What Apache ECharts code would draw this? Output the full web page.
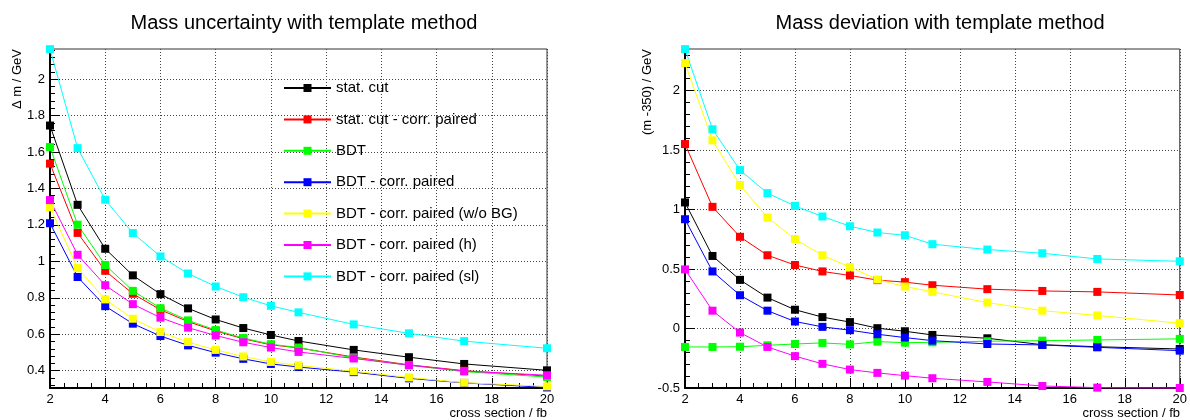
<!DOCTYPE html>
<html><head><meta charset="utf-8">
<script src="https://cdn.jsdelivr.net/npm/echarts@6/dist/echarts.min.js"></script>
<style>html,body{margin:0;padding:0;background:#fff}#c{width:1190px;height:420px}</style>
</head><body><div id="c"></div>
<script>
// ---- data ----
const xValues = [2,3,4,5,6,7,8,9,10,11,13,15,17,20];
const seriesNames = ['stat. cut','stat. cut - corr. paired','BDT','BDT - corr. paired','BDT - corr. paired (w/o BG)','BDT - corr. paired (h)','BDT - corr. paired (sl)'];
const seriesColors = ['#000000','#ff0000','#00ff00','#0000ff','#ffff00','#ff00ff','#00ffff'];

// left: mass uncertainty
const uncStatCut     = [1.745,1.310,1.069,0.923,0.820,0.742,0.681,0.634,0.596,0.563,0.514,0.474,0.437,0.402];
const uncStatCutCorr = [1.536,1.156,0.948,0.822,0.734,0.669,0.618,0.575,0.542,0.525,0.475,0.432,0.400,0.370];
const uncBDT         = [1.627,1.201,0.980,0.838,0.743,0.676,0.623,0.579,0.545,0.527,0.470,0.430,0.395,0.365];
const uncBDTCorr     = [1.209,0.914,0.754,0.658,0.590,0.539,0.499,0.465,0.437,0.420,0.392,0.358,0.333,0.308];
const uncBDTCorrNoBG = [1.296,0.963,0.791,0.685,0.612,0.557,0.514,0.478,0.448,0.429,0.397,0.363,0.334,0.314];
const uncBDTCorrH    = [1.336,1.036,0.869,0.765,0.691,0.636,0.593,0.556,0.527,0.503,0.467,0.430,0.398,0.375];
const uncBDTCorrSL   = [2.164,1.621,1.338,1.155,1.027,0.933,0.862,0.803,0.756,0.720,0.654,0.605,0.562,0.523];

// right: mass deviation
const devStatCut     = [1.060,0.610,0.409,0.260,0.158,0.096,0.054,0.003,-0.023,-0.054,-0.082,-0.136,-0.153,-0.172];
const devStatCutCorr = [1.551,1.023,0.771,0.616,0.534,0.480,0.446,0.407,0.390,0.364,0.331,0.316,0.308,0.282];
const devBDT         = [-0.155,-0.155,-0.153,-0.141,-0.130,-0.121,-0.133,-0.110,-0.119,-0.116,-0.107,-0.102,-0.096,-0.087];
const devBDTCorr     = [0.919,0.480,0.280,0.150,0.059,0.014,-0.014,-0.048,-0.076,-0.102,-0.130,-0.138,-0.158,-0.186];
const devBDTCorrNoBG = [2.231,1.582,1.206,0.933,0.752,0.616,0.517,0.412,0.353,0.308,0.218,0.150,0.110,0.045];
const devBDTCorrH    = [0.497,0.150,-0.034,-0.155,-0.232,-0.297,-0.345,-0.373,-0.396,-0.418,-0.449,-0.483,-0.497,-0.500];
const devBDTCorrSL   = [2.349,1.675,1.332,1.138,1.031,0.942,0.860,0.807,0.784,0.709,0.664,0.633,0.585,0.565];

const leftYTicks  = [0.4,0.6,0.8,1.0,1.2,1.4,1.6,1.8,2.0];
const rightYTicks = [-0.5,0,0.5,1,1.5,2];
const leftTitle = 'Mass uncertainty with template method';
const rightTitle = 'Mass deviation with template method';
const leftYName = '\u0394 m / GeV';
const rightYName = '(m -350) / GeV';
const xName = 'cross section / fb';

// ---- build ----
const FONT = 'Liberation Sans, Arial, Helvetica, sans-serif';
const uncSeries = [uncStatCut,uncStatCutCorr,uncBDT,uncBDTCorr,uncBDTCorrNoBG,uncBDTCorrH,uncBDTCorrSL];
const devSeries = [devStatCut,devStatCutCorr,devBDT,devBDTCorr,devBDTCorrNoBG,devBDTCorrH,devBDTCorrSL];

function minorValues(lo, hi, step, majors) {
  const out = [];
  for (let v = lo; v <= hi + 1e-9; v += step) {
    const r = Math.round(v * 1000) / 1000;
    if (!majors.some(m => Math.abs(m - r) < 1e-6)) out.push(r);
  }
  return out;
}

const leftYMin = 0.305, leftYMax = 2.165, rightYMin = -0.5, rightYMax = 2.35;

function xAxisCfg(gi) {
  return {
    type: 'value', gridIndex: gi, min: 2, max: 20, interval: 2,
    axisLine: { onZero: false, lineStyle: { color: '#000', width: 2 } },
    axisTick: { inside: true, length: 10, lineStyle: { color: '#000' } },
    minorTick: { show: true, splitNumber: 4, length: 5, lineStyle: { color: '#000' } },
    splitLine: { show: true, lineStyle: { color: '#444', type: [1, 2], width: 1 } },
    axisLabel: { fontSize: 13, fontFamily: FONT, color: '#000', margin: 5 }
  };
}
function yMainCfg(gi, min, max, ticks) {
  return {
    type: 'value', gridIndex: gi, position: 'left', min: min, max: max,
    axisLine: { onZero: false, lineStyle: { color: '#000', width: 2 } },
    axisTick: { inside: true, length: 10, customValues: ticks, lineStyle: { color: '#000' } },
    splitLine: { show: true, lineStyle: { color: '#444', type: [1, 2], width: 1 } },
    axisLabel: { customValues: ticks, fontSize: 13, fontFamily: FONT, color: '#000', margin: 5,
      formatter: v => String(Math.round(v * 10) / 10) }
  };
}
function yMinorCfg(gi, min, max, vals) {
  return {
    type: 'value', gridIndex: gi, position: 'left', min: min, max: max,
    axisLine: { show: false }, splitLine: { show: false },
    axisLabel: { show: false },
    axisTick: { inside: true, length: 5, customValues: vals, lineStyle: { color: '#000' } }
  };
}

const series = [];
uncSeries.forEach((arr, i) => series.push({
  name: seriesNames[i], type: 'line', xAxisIndex: 0, yAxisIndex: 0,
  data: xValues.map((x, j) => [x, arr[j]]),
  symbol: 'rect', symbolSize: 8, clip: false,
  itemStyle: { color: seriesColors[i] }, lineStyle: { color: seriesColors[i], width: 1 }
}));
devSeries.forEach((arr, i) => series.push({
  name: seriesNames[i], type: 'line', xAxisIndex: 1, yAxisIndex: 2,
  data: xValues.map((x, j) => [x, arr[j]]),
  symbol: 'rect', symbolSize: 8, clip: false,
  itemStyle: { color: seriesColors[i] }, lineStyle: { color: seriesColors[i], width: 1 }
}));

const option = {
  animation: false,
  backgroundColor: '#fff',
  title: [
    { text: leftTitle, left: 299, top: 8, textAlign: 'center',
      textStyle: { fontSize: 20, fontWeight: 'normal', fontFamily: FONT, color: '#000' } },
    { text: rightTitle, left: 935, top: 8, textAlign: 'center',
      textStyle: { fontSize: 20, fontWeight: 'normal', fontFamily: FONT, color: '#000' } }
  ],
  legend: {
    orient: 'vertical', left: 278, top: 75, itemWidth: 47, itemHeight: 10, itemGap: 15.4,
    data: seriesNames,
    textStyle: { fontSize: 15, fontFamily: FONT, color: '#000', lineHeight: 16 }
  },
  grid: [
    { left: 50, right: 643, top: 49, bottom: 32, show: true, borderColor: '#333', borderWidth: 1 },
    { left: 685, right: 10, top: 49, bottom: 32, show: true, borderColor: '#333', borderWidth: 1 }
  ],
  xAxis: [xAxisCfg(0), xAxisCfg(1)],
  yAxis: [
    yMainCfg(0, leftYMin, leftYMax, leftYTicks),
    yMinorCfg(0, leftYMin, leftYMax, minorValues(0.32, 2.16, 0.04, leftYTicks)),
    yMainCfg(1, rightYMin, rightYMax, rightYTicks),
    yMinorCfg(1, rightYMin, rightYMax, minorValues(-0.5, 2.3, 0.1, rightYTicks))
  ],
  graphic: [
    { type: 'text', x: 17, y: 49, rotation: Math.PI / 2,
      style: { text: leftYName, fontSize: 13, fontFamily: FONT, fill: '#000', align: 'right', verticalAlign: 'middle' } },
    { type: 'text', x: 647, y: 49, rotation: Math.PI / 2,
      style: { text: rightYName, fontSize: 13, fontFamily: FONT, fill: '#000', align: 'right', verticalAlign: 'middle' } },
    { type: 'text', x: 547, y: 413,
      style: { text: xName, fontSize: 13, fontFamily: FONT, fill: '#000', align: 'right', verticalAlign: 'middle' } },
    { type: 'text', x: 1180, y: 413,
      style: { text: xName, fontSize: 13, fontFamily: FONT, fill: '#000', align: 'right', verticalAlign: 'middle' } }
  ],
  series: series
};
const chart = echarts.init(document.getElementById('c'), null, { renderer: 'canvas' });
chart.setOption(option);
</script></body></html>
